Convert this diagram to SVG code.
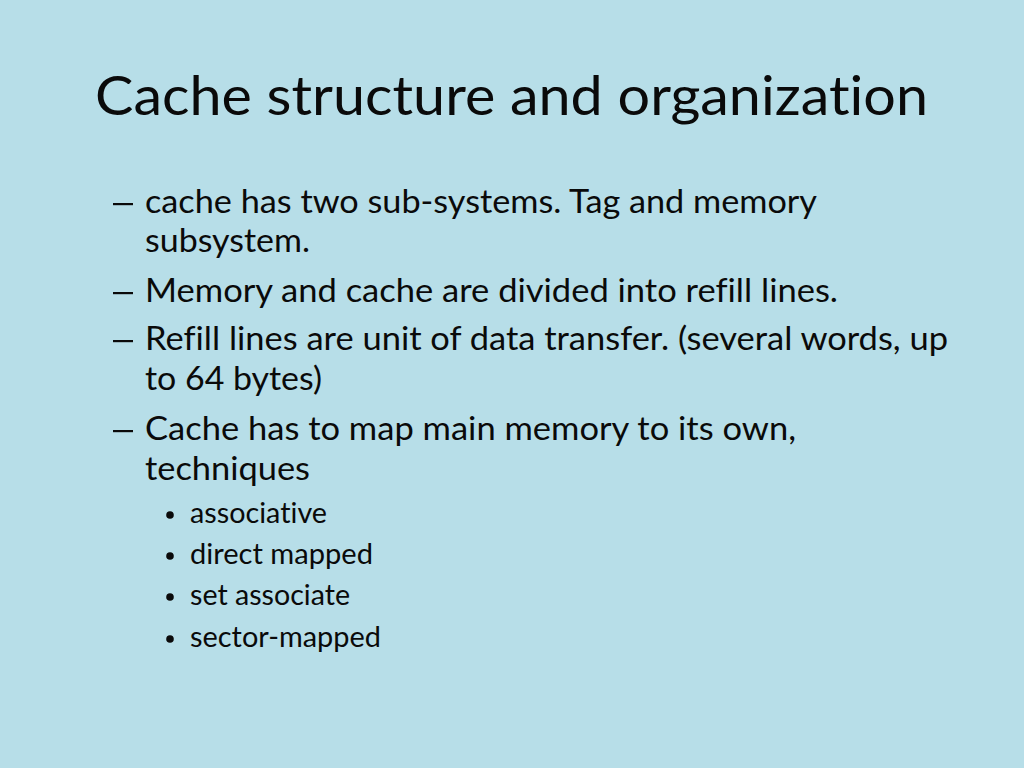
<svg xmlns="http://www.w3.org/2000/svg" width="1024" height="768" viewBox="0 0 1024 768">
<style>
.t{font-family:Lato,"Open Sans","Liberation Sans",sans-serif;fill:#0a0a0a;font-variant-ligatures:none;font-feature-settings:"liga" 0,"clig" 0}
.title{font-size:55px}
.b{font-size:32px}
.s{font-size:28px}
.d{fill:#0a0a0a}
</style>
<rect width="1024" height="768" fill="#B7DEE8"/>
<g id="title">
<text class="t title" x="95" y="115" textLength="833" lengthAdjust="spacingAndGlyphs">Cache structure and organization</text>
</g>
<g id="body">
<rect class="d" x="113" y="203" width="20" height="2.2"/>
<text class="t b" x="145" y="213" textLength="672" lengthAdjust="spacingAndGlyphs">cache has two sub-systems. Tag and memory</text>
<text class="t b" x="145" y="252" textLength="165" lengthAdjust="spacingAndGlyphs">subsystem.</text>
<rect class="d" x="113" y="292" width="20" height="2.2"/>
<text class="t b" x="145" y="302" textLength="693" lengthAdjust="spacingAndGlyphs">Memory and cache are divided into refill lines.</text>
<rect class="d" x="113" y="340" width="20" height="2.2"/>
<text class="t b" x="145" y="350" textLength="803" lengthAdjust="spacingAndGlyphs">Refill lines are unit of data transfer. (several words, up</text>
<text class="t b" x="145" y="390" textLength="177" lengthAdjust="spacingAndGlyphs">to 64 bytes)</text>
<rect class="d" x="113" y="430" width="20" height="2.2"/>
<text class="t b" x="145" y="440" textLength="651" lengthAdjust="spacingAndGlyphs">Cache has to map main memory to its own,</text>
<text class="t b" x="145" y="480" textLength="165" lengthAdjust="spacingAndGlyphs">techniques</text>
<circle class="d" cx="170" cy="515" r="3.8"/>
<text class="t s" x="190" y="523" textLength="137" lengthAdjust="spacingAndGlyphs">associative</text>
<circle class="d" cx="170" cy="556" r="3.8"/>
<text class="t s" x="190" y="564" textLength="183" lengthAdjust="spacingAndGlyphs">direct mapped</text>
<circle class="d" cx="170" cy="597" r="3.8"/>
<text class="t s" x="190" y="605" textLength="160" lengthAdjust="spacingAndGlyphs">set associate</text>
<circle class="d" cx="170" cy="639" r="3.8"/>
<text class="t s" x="190" y="647" textLength="191" lengthAdjust="spacingAndGlyphs">sector-mapped</text>
</g>
</svg>
